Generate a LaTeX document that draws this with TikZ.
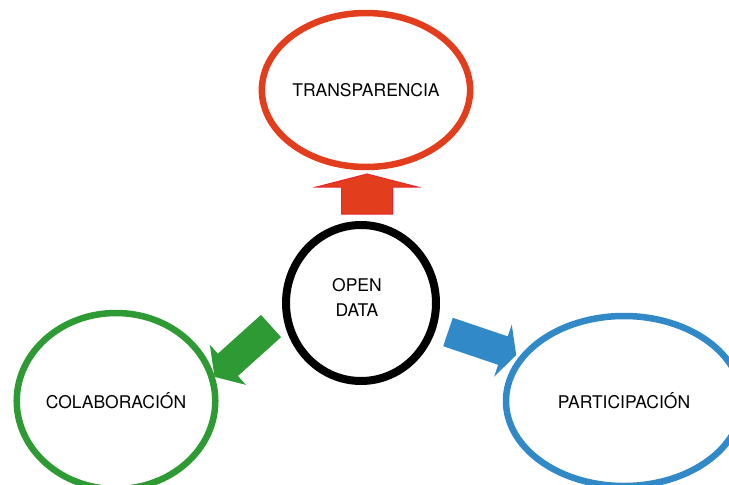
\documentclass[tikz,border=0pt]{standalone}
\usepackage{fontspec}
\setmainfont{TeX Gyre Heros}
\usetikzlibrary{shapes.geometric}
\definecolor{tred}{HTML}{E23D1C}
\definecolor{tredline}{HTML}{E8262A}
\definecolor{cgreen}{HTML}{2E9A33}
\definecolor{pblue}{HTML}{3189C8}
\tikzset{
  x=1pt, y=1pt,
  lbl/.style   ={align=center, inner sep=0pt, font=\fontsize{17.5}{25}\selectfont},
  goal/.style  ={ellipse, draw, line width=6.5pt, inner sep=0pt, lbl},
  core/.style  ={goal, line width=8pt},
  pics/bigarrow/.style n args={4}{code={
    % length, shaft half width, head half width, head length
    \path[pic actions] (0,-#2) -- ({#1-#4},-#2) -- ({#1-#4},-#3) -- (#1,0)
      -- ({#1-#4},#3) -- ({#1-#4},#2) -- (0,#2) -- cycle;
  }},
}
\begin{document}
\begin{tikzpicture}
\clip (0,0) rectangle (729,-485);
\useasboundingbox (0,0) rectangle (729,-485);
%% ---------- ellipses ----------
\node[core, minimum width=150, minimum height=156] (open) at (361,-303) {};
\node[lbl] (opentxt) at (357,-297) {OPEN\\DATA};
\node[goal, draw=tred, minimum width=200, minimum height=154] (trans) at (366,-90) {TRANSPARENCIA};
\node[goal, draw=cgreen, minimum width=196, minimum height=176] (colab) at (116,-401) {COLABORACIÓN};
\node[goal, draw=pblue, minimum width=236, minimum height=170] (part) at (624,-401) {PARTICIPACIÓN};
%% ---------- block arrows ----------
\pic[fill=tred, draw=tredline, line width=1pt, rotate=90] at (367,-214) {bigarrow={40}{25.5}{50.5}{13}};
\pic[fill=cgreen, rotate=222] at (271,-326) {bigarrow={76}{15}{27}{18}};
\pic[fill=pblue, rotate=-18.7] at (448,-332) {bigarrow={72}{15}{27.5}{14}};
\end{tikzpicture}
\end{document}
